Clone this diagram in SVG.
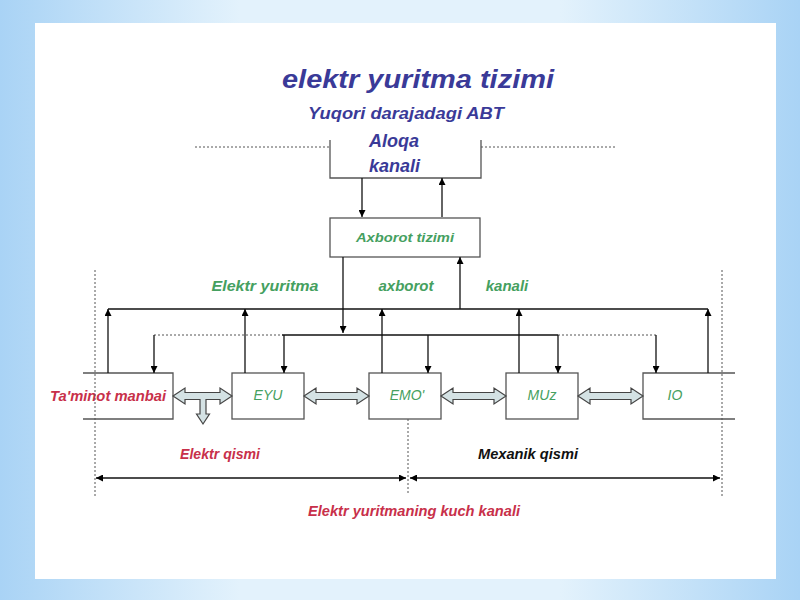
<svg xmlns="http://www.w3.org/2000/svg" width="800" height="600" viewBox="0 0 800 600">
<defs>
<linearGradient id="bg" x1="0" y1="0" x2="1" y2="0">
<stop offset="0" stop-color="#a9d3f5"/>
<stop offset="0.3" stop-color="#e3f2fc"/>
<stop offset="0.7" stop-color="#e3f2fc"/>
<stop offset="1" stop-color="#a9d3f5"/>
</linearGradient>
<marker id="ah" viewBox="0 0 10 10" refX="10" refY="5" markerWidth="7" markerHeight="7" markerUnits="userSpaceOnUse" orient="auto">
<path d="M0,0 L10,5 L0,10 Z" fill="#000"/>
</marker>
<style>
.box{fill:none;stroke:#555;stroke-width:1.3}
.ln{fill:none;stroke:#111;stroke-width:1.3}
.arr{fill:none;stroke:#111;stroke-width:1.3;marker-end:url(#ah)}
.dot{fill:none;stroke:#555;stroke-width:1;stroke-dasharray:2,2}
.hol{fill:#d4e2e4;stroke:#444;stroke-width:1.2}
.t{font-family:"Liberation Sans",Arial,sans-serif;font-style:italic;font-weight:bold;text-anchor:middle}
.n{font-weight:normal}
.blue{fill:#3a3a98}
.green{fill:#45a060}
.red{fill:#c8304a}
.blk{fill:#111}
</style>
</defs>
<rect x="0" y="0" width="800" height="600" fill="url(#bg)"/>
<rect x="35" y="23" width="741" height="556" fill="#ffffff"/>

<text class="t blue" x="418" y="88" font-size="25" textLength="272" lengthAdjust="spacingAndGlyphs">elektr yuritma tizimi</text>
<text class="t blue" x="406" y="119" font-size="16" textLength="196" lengthAdjust="spacingAndGlyphs">Yuqori darajadagi ABT</text>

<g id="aloqa">
<path class="box" d="M330,140 V178 H481 V140"/>
<text class="t blue" x="369" y="147" font-size="18" style="text-anchor:start">Aloqa</text>
<text class="t blue" x="369" y="172" font-size="18" style="text-anchor:start">kanali</text>
</g>
<g id="axborot">
<rect class="box" x="330" y="218" width="150" height="39"/>
<text class="t green" x="405" y="242" font-size="13" textLength="98" lengthAdjust="spacingAndGlyphs">Axborot tizimi</text>
</g>
<g id="taminot">
<path class="box" d="M83,373 H173 V419 H83"/>
<text class="t red" x="108" y="401" font-size="14" textLength="116" lengthAdjust="spacingAndGlyphs">Ta'minot manbai</text>
</g>
<g id="eyu">
<rect class="box" x="232" y="373" width="72" height="46"/>
<text class="t green n" x="268" y="400" font-size="14">EYU</text>
</g>
<g id="emo">
<rect class="box" x="369" y="373" width="72" height="46"/>
<text class="t green n" x="407" y="400" font-size="14">EMO'</text>
</g>
<g id="muz">
<rect class="box" x="506" y="373" width="72" height="46"/>
<text class="t green n" x="542" y="400" font-size="14">MUz</text>
</g>
<g id="io">
<path class="box" d="M735,373 H643 V419 H735"/>
<text class="t green n" x="675" y="400" font-size="14">IO</text>
</g>

<g id="labels">
<text class="t green" x="265" y="291" font-size="15" textLength="107" lengthAdjust="spacingAndGlyphs">Elektr yuritma</text>
<text class="t green" x="406" y="291" font-size="15">axborot</text>
<text class="t green" x="507" y="291" font-size="15">kanali</text>
<text class="t red" x="220" y="459" font-size="14" textLength="80" lengthAdjust="spacingAndGlyphs">Elektr qismi</text>
<text class="t blk" x="528" y="459" font-size="14" textLength="100" lengthAdjust="spacingAndGlyphs">Mexanik qismi</text>
<text class="t red" x="414" y="516" font-size="14" textLength="212" lengthAdjust="spacingAndGlyphs">Elektr yuritmaning kuch kanali</text>
</g>

<g id="connectors">
<path class="dot" d="M195,147 H330 M481,147 H615"/>
<path class="arr" d="M362,178 V217"/>
<path class="arr" d="M442,217 V178"/>
<path class="arr" d="M343,257 V333"/>
<path class="arr" d="M460,309 V257"/>
<path class="ln" d="M108,309 H708"/>
<path class="arr" d="M108,373 V309"/>
<path class="arr" d="M245,373 V309"/>
<path class="arr" d="M382,373 V309"/>
<path class="arr" d="M519,373 V309"/>
<path class="arr" d="M708,373 V309"/>
<path class="dot" d="M154,335 H282 M558,335 H657"/>
<path class="ln" d="M282,335 H558"/>
<path class="arr" d="M154,335 V373"/>
<path class="arr" d="M284,335 V373"/>
<path class="arr" d="M428,335 V373"/>
<path class="arr" d="M558,335 V373"/>
<path class="arr" d="M656,335 V373"/>
<path class="hol" d="M173,396 L185,388 L185,392.5 L220,392.5 L220,388 L232,396 L220,404 L220,399.5 L206,399.5 L206,414 L209.5,414 L203,424 L196.5,414 L200,414 L200,399.5 L185,399.5 L185,404 Z"/>
<path class="hol" d="M304,396 L316,388 L316,392.5 L357,392.5 L357,388 L369,396 L357,404 L357,399.5 L316,399.5 L316,404 Z"/>
<path class="hol" d="M441,396 L453,388 L453,392.5 L494,392.5 L494,388 L506,396 L494,404 L494,399.5 L453,399.5 L453,404 Z"/>
<path class="hol" d="M578,396 L590,388 L590,392.5 L631,392.5 L631,388 L643,396 L631,404 L631,399.5 L590,399.5 L590,404 Z"/>
<path class="dot" d="M95,270 V498 M722,270 V498 M408,419 V495"/>
<path class="arr" d="M250,478 H96"/>
<path class="arr" d="M250,478 H406"/>
<path class="arr" d="M560,478 H410"/>
<path class="arr" d="M560,478 H720"/>
</g>
</svg>
